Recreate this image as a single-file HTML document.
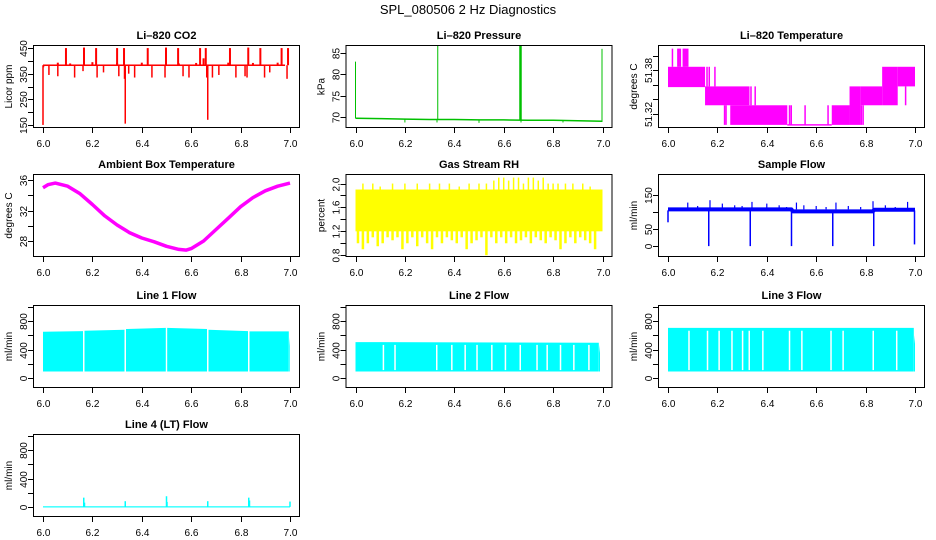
<!DOCTYPE html>
<html><head><meta charset="utf-8"><style>
html,body{margin:0;padding:0;background:#fff;}
svg{display:block;font-family:"Liberation Sans",Arial,sans-serif;}
</style></head><body>
<svg id="chart" width="936" height="540" viewBox="0 0 936 540" xmlns="http://www.w3.org/2000/svg">
<text x="468" y="14" text-anchor="middle" font-size="13">SPL_080506  2 Hz Diagnostics</text>
</svg>
<script>
// ---- data ----
const xTicks=[6.0,6.2,6.4,6.6,6.8,7.0];
const xTickLabels=['6.0','6.2','6.4','6.6','6.8','7.0'];
// CO2
const co2Base=[383];
const co2SpikeT=[6.093,6.166,6.215,6.300,6.328,6.424,6.498,6.547,6.636,6.659,6.757,6.831,6.880,6.966,6.992,6.0,6.002,6.024,6.06,6.128,6.162,6.219,6.245,6.307,6.330,6.333,6.347,6.371,6.441,6.494,6.567,6.591,6.663,6.667,6.686,6.712,6.781,6.818,6.826,6.897,6.918,6.988,6.06,6.11,6.2,6.3,6.4,6.55,6.62,6.65,6.75,6.85,6.95];
const co2SpikeV=[450,452,450,450,450,450,452,450,450,450,450,452,450,450,450,150,375,345,340,335,360,335,355,340,330,155,350,335,335,335,340,335,335,170,335,345,335,340,335,335,355,330,393,390,395,392,393,390,392,410,393,392,393];
// Pressure
const prT=[6.0,6.1,6.2,6.3,6.4,6.5,6.6,6.7,6.8,6.9,7.0];
const prV=[69.7,69.6,69.5,69.4,69.4,69.3,69.3,69.2,69.2,69.1,69.0];
const prSpikeT=[6.0,6.333,6.667,6.669,6.998,6.2,6.33,6.5,6.67,6.84];
const prSpikeV=[83,87,87,87,86,68.7,68.7,68.6,68.7,68.7];
// Li-820 temperature blocks [t0,t1,lo,hi]
const tmpBlocks=[[6.0,6.15,51.357,51.385],[6.15,6.33,51.332,51.358],[6.252,6.483,51.305,51.332],[6.483,6.663,51.304,51.306],[6.663,6.735,51.305,51.332],[6.735,6.78,51.305,51.358],[6.78,6.867,51.332,51.358],[6.867,6.93,51.332,51.385],[6.93,7.0,51.358,51.385]];
const tmpLineT=[6.018,6.04,6.045,6.05,6.062,6.066,6.07,6.075,6.08,6.158,6.167,6.19,6.229,6.235,6.336,6.353,6.492,6.499,6.555,6.648,6.783,6.79,6.962];
const tmpLineLo=[51.385,51.385,51.385,51.385,51.385,51.385,51.385,51.385,51.385,51.358,51.358,51.358,51.305,51.305,51.332,51.332,51.305,51.305,51.305,51.305,51.305,51.305,51.332];
const tmpLineHi=[51.41,51.41,51.41,51.41,51.41,51.41,51.41,51.41,51.41,51.385,51.385,51.385,51.332,51.332,51.358,51.358,51.332,51.332,51.332,51.332,51.332,51.332,51.358];
// Ambient box temperature
const amT=[6.0,6.02,6.05,6.1,6.15,6.2,6.25,6.3,6.35,6.4,6.45,6.5,6.55,6.58,6.6,6.65,6.7,6.75,6.8,6.85,6.9,6.95,7.0];
const amV=[35.0,35.4,35.6,35.2,34.2,32.8,31.3,30.1,29.1,28.4,27.9,27.3,26.9,26.8,27.0,28.0,29.5,31.0,32.5,33.7,34.6,35.2,35.6];
// Gas stream RH
const rhBand=[1.2,1.9];
const rhDownT=[6.01,6.03,6.05,6.07,6.09,6.11,6.13,6.15,6.17,6.19,6.21,6.23,6.25,6.27,6.29,6.31,6.33,6.35,6.37,6.39,6.41,6.43,6.45,6.47,6.49,6.51,6.53,6.55,6.57,6.59,6.61,6.63,6.65,6.67,6.69,6.71,6.73,6.75,6.77,6.79,6.81,6.83,6.85,6.87,6.89,6.91,6.93,6.95,6.97,6.99];
const rhDownV=[1.0,0.9,1.0,1.1,0.95,1.0,1.1,1.05,1.1,0.9,1.0,1.1,0.95,1.1,1.0,0.9,1.1,1.0,1.1,1.05,1.0,1.1,0.9,1.0,1.05,1.1,0.8,1.1,1.0,1.1,1.0,1.1,1.0,1.05,1.1,1.0,1.1,1.05,1.0,1.1,1.05,0.9,1.0,1.1,1.0,1.1,1.05,1.0,0.9,1.3];
const rhUpT=[6.03,6.07,6.1,6.15,6.2,6.25,6.3,6.34,6.38,6.42,6.46,6.5,6.53,6.56,6.58,6.6,6.62,6.64,6.66,6.68,6.7,6.72,6.74,6.76,6.78,6.8,6.82,6.85,6.88,6.92,6.95];
const rhUpV=[2.0,2.0,1.95,2.0,2.0,2.0,2.0,2.0,2.0,1.95,2.0,2.0,2.0,2.05,2.1,2.1,2.05,2.1,2.1,2.0,2.1,2.1,2.05,2.1,2.0,2.0,2.0,2.0,2.0,2.0,1.95];
// Sample flow
const sfT=[6.0,6.5,6.505,6.83,6.835,7.0];
const sfV=[108,108,102,102,107,107];
const sfDropT=[6.0,6.165,6.333,6.5,6.667,6.833,6.998];
const sfDropV=[70,0,0,0,0,0,5];
const sfUpT=[6.08,6.12,6.17,6.22,6.27,6.3,6.34,6.4,6.45,6.48,6.52,6.55,6.6,6.64,6.68,6.73,6.78,6.83,6.88,6.92,6.97];
const sfUpV=[128,118,135,125,120,118,130,125,120,115,128,120,118,115,128,118,115,132,120,115,130];
// Line flows: segments [t0,t1,topStart,topEnd], bottom value, gaps
const l1Seg=[[6.0,6.162,650,660],[6.168,6.33,665,680],[6.336,6.497,690,705],[6.503,6.664,705,690],[6.67,6.83,680,660],[6.836,6.995,655,655],[6.997,7.0,576,452]];
const l1Bottom=[90];
const l1GapT=[];
const l2Seg=[[6.0,6.985,505,495],[6.986,6.99,470,350]];
const l2Bottom=[90];
const l2GapT=[6.113,6.160,6.329,6.390,6.444,6.492,6.552,6.607,6.667,6.735,6.776,6.830,6.884,6.945];
const l3Seg=[[6.0,6.995,705,705],[6.996,7.0,600,480]];
const l3Bottom=[90];
const l3GapT=[6.085,6.160,6.207,6.259,6.302,6.329,6.384,6.492,6.542,6.660,6.709,6.831,6.926];
const l4SpT=[6.165,6.168,6.333,6.5,6.502,6.667,6.833,6.836,7.0];
const l4SpV=[130,60,80,150,70,80,130,90,75];

// ---- drawing ----
const NS='http://www.w3.org/2000/svg';
const svg=document.getElementById('chart');
function mk(tag,attrs,parent){const e=document.createElementNS(NS,tag);for(const k in attrs)e.setAttribute(k,attrs[k]);parent.appendChild(e);return e;}
const rowTops=[45,174,305,434];
let clipId=0;
function panel(col,row,title,ylab,ymin,ymax,ticks,labels,name){
  const left=33+col*312.5, right=left+267, top=rowTops[row], bottom=top+83;
  const g=mk('g',{},svg);
  
  
  const sx=t=>left+10+(t-6)*247;
  const sy=v=>bottom-(v-ymin)/(ymax-ymin)*(bottom-top);
  const cp=mk('clipPath',{id:'cp'+clipId},g);
  mk('rect',{x:left,y:top,width:267,height:83},cp);
  const data=mk('g',{'clip-path':'url(#cp'+clipId+')'},g);
  
  
  clipId++;
  const t=mk('text',{x:(left+right)/2,y:top-6,'text-anchor':'middle','font-size':'11','font-weight':'bold'},g);
  t.textContent=title;
  
  
  const yl=mk('text',{transform:`translate(${left-21},${(top+bottom)/2}) rotate(-90)`,'text-anchor':'middle','font-size':'10'},g);
  yl.textContent=ylab;
  
  
  const box=mk('rect',{x:left+0.5,y:top+0.5,width:266,height:82,fill:'none',stroke:'#000','stroke-width':1},g);
  
  
  const xa=mk('g',{},g);
  
  
  xTicks.forEach((v,i)=>{
    const x=Math.round(sx(v))+0.5;
    mk('line',{x1:x,x2:x,y1:bottom,y2:bottom+5,stroke:'#000'},xa);
    const tx=mk('text',{x:x,y:bottom+19,'text-anchor':'middle','font-size':'10'},xa);
    tx.textContent=xTickLabels[i];
    
    
  });
  const ya=mk('g',{},g);
  
  
  ticks.forEach((v,i)=>{
    const y=Math.round(sy(v))+0.5;
    mk('line',{x1:left-5,x2:left,y1:y,y2:y,stroke:'#000'},ya);
    if(labels[i]){
      const ty=mk('text',{transform:`translate(${left-6},${y}) rotate(-90)`,'text-anchor':'middle','font-size':'10'},ya);
      ty.textContent=labels[i];
      
      
    }
  });
  return {data,sx,sy,top,bottom};
}
function vline(p,t,v0,v1,color,w){
  return mk('line',{x1:p.sx(t),x2:p.sx(t),y1:p.sy(v0),y2:p.sy(v1),stroke:color,'stroke-width':w},p.data);
}
function band(p,t0,t1,lo,hi,color){
  return mk('rect',{x:p.sx(t0),y:p.sy(hi),width:Math.max(1,p.sx(t1)-p.sx(t0)),height:Math.max(1,p.sy(lo)-p.sy(hi)),fill:color},p.data);
}
function poly(p,ts,vs,color,w){
  const pts=ts.map((t,i)=>p.sx(t).toFixed(1)+','+p.sy(vs[i]).toFixed(1)).join(' ');
  return mk('polyline',{points:pts,fill:'none',stroke:color,'stroke-width':w,'stroke-linejoin':'round'},p.data);
}

let p=panel(0,0,'Li\u2013820 CO2','Licor ppm',138,462,[150,200,250,300,350,400,450],['150','','250','','350','','450'],'co2');
co2SpikeT.forEach((t,i)=>{vline(p,t,co2Base[0],co2SpikeV[i],'#ff0000',co2SpikeV[i]>co2Base[0]?2:1.5);});
band(p,6.0,6.98,co2Base[0]-3,co2Base[0]+3,'#ff0000');

p=panel(1,0,'Li\u2013820 Pressure','kPa',67.4,86.9,[70,75,80,85],['70','75','80','85'],'pressure');
poly(p,prT,prV,'#00c000',1.5);
prSpikeT.forEach((t,i)=>{const base=prV[Math.min(prV.length-1,Math.round((t-6)*10))];vline(p,t,base,prSpikeV[i],'#00c000',(i>=2&&i<=3)?2:1);});

p=panel(2,0,'Li\u2013820 Temperature','degrees C',51.3007,51.415,[51.32,51.34,51.36,51.38,51.40],['51.32','','','51.38',''],'li820-temp');
tmpBlocks.forEach(b=>band(p,b[0],b[1],b[2],b[3],'#ff00ff'));
tmpLineT.forEach((t,i)=>vline(p,t,tmpLineLo[i],tmpLineHi[i],'#ff00ff',1.5));

p=panel(0,1,'Ambient Box Temperature','degrees C',25.9,36.8,[28,30,32,34,36],['28','','32','','36'],'ambient-temp');
poly(p,amT,amV,'#ff00ff',3.5);

p=panel(1,1,'Gas Stream RH','percent',0.77,2.16,[0.8,1.0,1.2,1.4,1.6,1.8,2.0],['0.8','','1.2','','1.6','','2.0'],'gas-rh');
band(p,6.0,7.0,rhBand[0],rhBand[1],'#ffff00');
rhDownT.forEach((t,i)=>{vline(p,t,rhBand[0]+0.1,rhDownV[i],'#ffff00',2.5);});
rhUpT.forEach((t,i)=>{vline(p,t,rhBand[1]-0.05,rhUpV[i],'#ffff00',1.5);});

p=panel(2,1,'Sample Flow','ml/min',-32,212,[0,50,100,150],['0','50','','150'],'sample-flow');
poly(p,sfT,sfV,'#0000ff',4);
sfDropT.forEach((t,i)=>vline(p,t,105,sfDropV[i],'#0000ff',1.5));
sfUpT.forEach((t,i)=>vline(p,t,108,sfUpV[i],'#0000ff',1.2));

function flowPanel(col,row,title,seg,bottomV,gaps,name){
  const q=panel(col,row,title,'ml/min',-143,1028,[0,200,400,600,800,1000],['0','','400','','800',''],name);
  seg.forEach(s=>{
    const pts=[[s[0],bottomV[0]],[s[0],s[2]],[s[1],s[3]],[s[1],bottomV[0]]].map(a=>q.sx(a[0]).toFixed(1)+','+q.sy(a[1]).toFixed(1)).join(' ');
    mk('polygon',{points:pts,fill:'#00ffff'},q.data);
  });
  gaps.forEach(t=>{vline(q,t,bottomV[0]+20,seg[0][2]-40,'#ffffff',1.5);});
  return q;
}
flowPanel(0,2,'Line 1 Flow',l1Seg,l1Bottom,l1GapT,'line1-flow');
flowPanel(1,2,'Line 2 Flow',l2Seg,l2Bottom,l2GapT,'line2-flow');
flowPanel(2,2,'Line 3 Flow',l3Seg,l3Bottom,l3GapT,'line3-flow');
p=panel(0,3,'Line 4 (LT) Flow','ml/min',-143,1028,[0,200,400,600,800,1000],['0','','400','','800',''],'line4-flow');
band(p,6.0,7.0,-8,8,'#00ffff');
l4SpT.forEach((t,i)=>vline(p,t,0,l4SpV[i],'#00ffff',1.5));
</script>
</body></html>
